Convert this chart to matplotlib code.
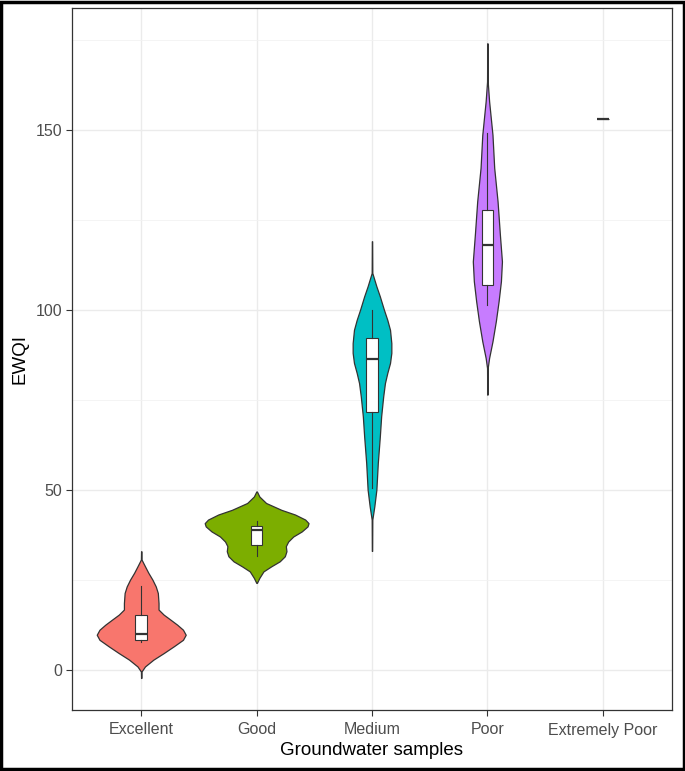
import matplotlib
matplotlib.use("Agg")
import matplotlib.pyplot as plt
from matplotlib.patches import Rectangle

plt.rcParams['font.family'] = ['Liberation Sans', 'DejaVu Sans']

# categories and fill colours
categories = ["Excellent", "Good", "Medium", "Poor", "Extremely Poor"]
fills = ["#F8766D", "#7CAE00", "#00BFC4", "#C77CFF"]

# violin profiles: EWQI levels and relative density
excellent_y = [-2.3, -0.5, 0.9, 2.8, 4.6, 6.5, 8.3, 9.7, 11.1, 12.5, 13.9, 15.3,
               16.7, 18.5, 21.3, 23.1, 25.0, 26.9, 28.7, 30.6, 32.9]
excellent_d = [0.15, 0.3, 3.7, 12, 22, 32, 41, 43.7, 41, 35.3, 28.7, 22,
               17, 17, 16.3, 14.3, 11, 7, 3.7, 0.3, 0.15]

good_y = [24.1, 25.5, 27.3, 28.7, 30.1, 31.5, 32.9, 34.3, 35.6, 37.0, 38.4,
          39.8, 40.7, 41.7, 43.1, 44.4, 46.3, 48.1, 49.5]
good_d = [0.3, 2.7, 6.7, 14.3, 22.7, 27.7, 29.3, 28.7, 31, 36, 44.3,
          50, 51, 47.7, 37.7, 24.3, 9.3, 2.7, 0.3]

medium_y = [33.0, 41.7, 45.4, 50.0, 57.4, 64.8, 70.4, 75.9, 79.6, 82.4, 85.2,
            88.0, 90.7, 94.4, 97.2, 100.0, 103.7, 106.5, 110.2, 119.0]
medium_d = [0.15, 0.3, 2.3, 4.3, 5.7, 7.7, 9, 11, 12.7, 15, 17.7,
            19, 19, 17.7, 15, 11.7, 7.7, 4.3, 0.3, 0.15]

poor_y = [76.4, 83.8, 86.6, 91.2, 96.8, 102.3, 107.9, 113.4, 120.8, 130.1,
          139.4, 148.6, 157.9, 163.4, 174.0]
poor_d = [0.15, 0.3, 1.7, 5, 8.3, 11, 13.3, 14.3, 12.3, 10,
          6.7, 5, 1.7, 0.3, 0.15]

profiles_y = [excellent_y, good_y, medium_y, poor_y]
profiles_d = [excellent_d, good_d, medium_d, poor_d]

# box plot statistics (whisker low, q1, median, q3, whisker high)
whislo = [7.7, 31.7, 50.5, 101.4, 153.0]
q1 = [8.3, 34.7, 71.5, 106.8, 153.0]
med = [10.0, 38.9, 86.3, 118.1, 153.0]
q3 = [15.3, 39.8, 92.1, 127.8, 153.0]
whishi = [23.2, 41.2, 100.0, 149.0, 153.0]

fig = plt.figure(figsize=(6.85, 7.71), dpi=100)
ax = fig.add_axes([72 / 685, 1 - 710 / 771, 600 / 685, 702 / 771])

# violins, scaled by area like ggplot (widest = 0.9)
dmax = max(max(d) for d in profiles_d)
vpstats = []
widths = []
for ys, ds in zip(profiles_y, profiles_d):
    vpstats.append({"coords": ys, "vals": ds, "mean": 0, "median": 0,
                    "min": ys[0], "max": ys[-1]})
    widths.append(0.9 * max(ds) / dmax)
parts = ax.violin(vpstats, positions=[1, 2, 3, 4], widths=widths,
                  showmeans=False, showextrema=False, showmedians=False)
for body, c in zip(parts["bodies"], fills):
    body.set_facecolor(c)
    body.set_edgecolor("#333333")
    body.set_linewidth(0.9)
    body.set_alpha(1)
    body.set_zorder(3)

stats = []
for i in range(len(categories)):
    stats.append({"med": med[i], "q1": q1[i], "q3": q3[i],
                  "whislo": whislo[i], "whishi": whishi[i], "fliers": []})
ax.bxp(stats, positions=[1, 2, 3, 4, 5], widths=0.1, patch_artist=True,
       showcaps=False, showfliers=False,
       boxprops=dict(facecolor="white", edgecolor="#333333", linewidth=0.8),
       whiskerprops=dict(color="#333333", linewidth=0.8),
       medianprops=dict(color="#333333", linewidth=1.6),
       zorder=4)

ax.set_xlim(0.4, 5.6)
ax.set_ylim(-11.2, 183.8)
ax.set_xticks([1, 2, 3, 4, 5])
ax.set_xticklabels(categories)
ax.set_yticks([0, 50, 100, 150])
ax.set_yticks([25, 75, 125, 175], minor=True)
ax.grid(True, which="major", color="#EBEBEB", linewidth=1.0, zorder=0)
ax.grid(True, which="minor", axis="y", color="#F2F2F2", linewidth=0.6, zorder=0)
ax.set_axisbelow(True)
ax.tick_params(axis="both", which="major", length=4, width=0.8, color="#333333",
               labelcolor="#4D4D4D", labelsize=11.5)
ax.tick_params(axis="x", which="major", pad=5)
ax.tick_params(axis="y", which="major", pad=3)
ax.tick_params(axis="both", which="minor", length=0)
for s in ax.spines.values():
    s.set_color("#333333")
    s.set_linewidth(0.9)

ax.set_xlabel("Groundwater samples", fontsize=13.5, labelpad=3)
ax.set_ylabel("EWQI", fontsize=13.5, labelpad=5)

# outer frame of the figure
fig.patches.append(Rectangle((0.002, 0.002), 0.996, 0.996, transform=fig.transFigure,
                             fill=False, edgecolor="black", linewidth=2.5))

fig.savefig("out.png", dpi=100)
